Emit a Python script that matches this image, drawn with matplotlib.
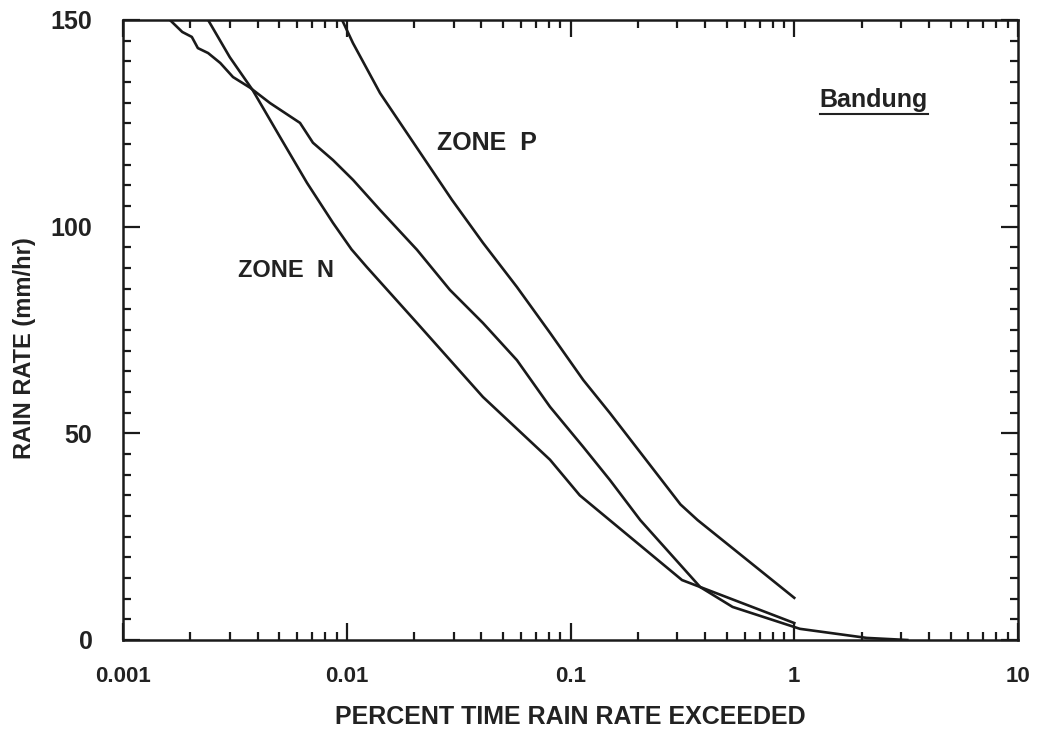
import numpy as np
import matplotlib
matplotlib.use("Agg")
import matplotlib.pyplot as plt
from matplotlib.ticker import LogLocator, MultipleLocator, FixedLocator, FixedFormatter, NullFormatter

# ── Data ─────────────────────────────────────────────────────────────────────
zone_p_pct = [0.00953, 0.01066, 0.01409, 0.0295, 0.0406, 0.0576, 0.081, 0.114, 0.150, 0.31, 0.37, 1.0]
zone_p_rate = [150, 144.4, 132.3, 106.5, 96.1, 85.4, 74.3, 62.9, 54.9, 32.8, 29.0, 10.2]

zone_n_pct = [0.0024, 0.0030, 0.0038, 0.00503, 0.00664, 0.00868, 0.0105, 0.0123, 0.0206, 0.0406, 0.081, 0.11, 0.315, 1.0]
zone_n_rate = [150, 141, 133, 121.7, 110.6, 100.9, 94.5, 90.2, 76.7, 58.8, 43.6, 35.0, 14.5, 4.1]

bandung_pct = [0.00162, 0.00184, 0.00203, 0.00216, 0.0024, 0.00272, 0.0031, 0.0037, 0.00454,
               0.00618, 0.00706, 0.00868, 0.01067, 0.0141, 0.0206, 0.0289, 0.0406, 0.0576,
               0.081, 0.114, 0.150, 0.205, 0.38, 0.53, 1.06, 2.11, 3.2]
bandung_rate = [150, 147.1, 145.9, 143.2, 142.0, 139.6, 136.2, 133.6, 129.9,
                125.1, 120.3, 116.1, 111.3, 104.0, 94.4, 84.7, 76.7, 67.7,
                56.4, 46.7, 38.7, 29.0, 12.8, 8.0, 2.7, 0.5, 0.0]

x_ticks = [0.001, 0.01, 0.1, 1, 10]
x_ticklabels = ["0.001", "0.01", "0.1", "1", "10"]
y_ticks = [0, 50, 100, 150]

FONT = ["Liberation Sans", "DejaVu Sans"]
INK = "#222222"

fig = plt.figure(figsize=(10.47, 7.29), dpi=100)
ax = fig.add_axes([0.1175, 0.1221, 0.8548, 0.8505])

for xs, ys in [(zone_p_pct, zone_p_rate), (zone_n_pct, zone_n_rate), (bandung_pct, bandung_rate)]:
    ax.plot(xs, ys, color="#1a1a1a", lw=1.9, solid_joinstyle="round")

ax.set_xscale("log")
ax.set_xlim(0.001, 10)
ax.set_ylim(0, 150)

ax.xaxis.set_major_locator(FixedLocator(x_ticks))
ax.xaxis.set_major_formatter(FixedFormatter(x_ticklabels))
ax.xaxis.set_minor_locator(LogLocator(base=10, subs=np.arange(2, 10)))
ax.xaxis.set_minor_formatter(NullFormatter())
ax.yaxis.set_major_locator(FixedLocator(y_ticks))
ax.yaxis.set_minor_locator(MultipleLocator(5))

ax.tick_params(which="both", direction="in", top=True, right=True, color="#1a1a1a", width=1.6,
               labelcolor=INK)
ax.tick_params(which="major", length=12)
ax.tick_params(which="minor", length=6)
ax.tick_params(axis="x", which="major", pad=19, labelsize=16)
ax.tick_params(axis="y", which="major", pad=22, labelsize=18)
for lab in ax.get_xticklabels() + ax.get_yticklabels():
    lab.set_family(FONT)
    lab.set_fontweight("bold")
for s in ax.spines.values():
    s.set_linewidth(1.8)
    s.set_color("#1a1a1a")

ax.set_xlabel("PERCENT TIME RAIN RATE EXCEEDED", fontsize=18, family=FONT, fontweight="bold",
              color=INK, va="center")
ax.xaxis.set_label_coords(0.5, -0.125)
ax.set_ylabel("RAIN RATE (mm/hr)", fontsize=17, family=FONT, fontweight="bold",
              color=INK, va="center")
ax.yaxis.set_label_coords(-0.11, 0.47)

ax.text(0.0253, 120.3, "ZONE  P", fontsize=18, family=FONT, fontweight="bold",
        color=INK, va="center", ha="left")
ax.text(0.00327, 89.5, "ZONE  N", fontsize=17, family=FONT, fontweight="bold",
        color=INK, va="center", ha="left")
txt = ax.text(1.3, 130.7, "Bandung", fontsize=18, family=FONT, fontweight="bold",
              color=INK, va="center", ha="left")

# underline the station name
fig.canvas.draw()
bb = txt.get_window_extent().transformed(ax.transAxes.inverted())
ax.plot([bb.x0, bb.x1], [bb.y0 - 0.003, bb.y0 - 0.003], transform=ax.transAxes,
        color=INK, lw=1.5)

fig.savefig("out.png", dpi=100)
